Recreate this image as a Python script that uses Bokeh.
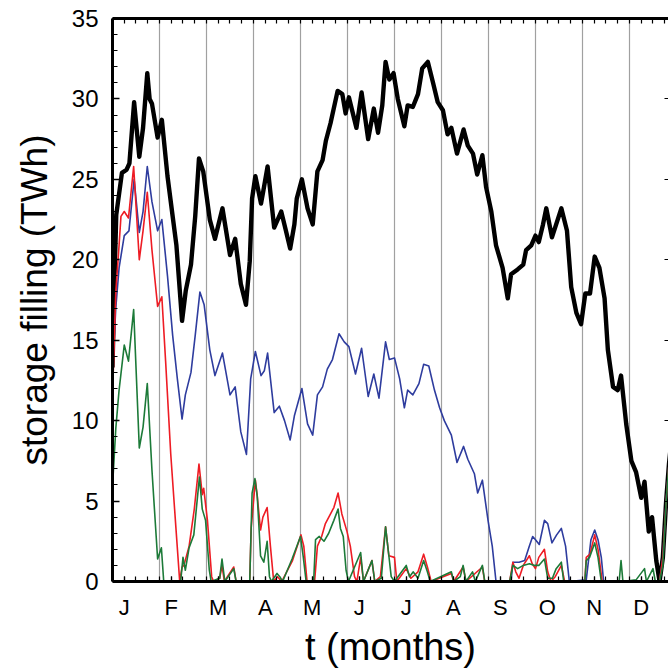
from bokeh.plotting import figure
from bokeh.models import Range1d, LinearAxis, FixedTicker, SingleIntervalTicker, Grid
from bokeh.embed import file_html
from bokeh.resources import INLINE

# x in months (0 = start of January), y in TWh
month_labels = ["J", "F", "M", "A", "M", "J", "J", "A", "S", "O", "N", "D"]

black_pts = [(0, 13.3), (0.04, 18.5), (0.08, 22.8), (0.2, 25.4), (0.3, 25.6), (0.36, 26.0), (0.46, 29.8),
             (0.57, 26.4), (0.65, 28.2), (0.74, 31.6), (0.79, 30.0), (0.84, 29.7), (0.96, 27.6), (1.05, 28.7),
             (1.17, 25.2), (1.28, 22.7), (1.36, 20.9), (1.48, 16.2), (1.56, 18.1), (1.67, 19.7), (1.76, 22.7),
             (1.84, 26.3), (1.93, 25.5), (2.07, 22.5), (2.18, 21.3), (2.34, 23.2), (2.50, 20.3), (2.61, 21.3),
             (2.73, 18.5), (2.84, 17.2), (2.92, 19.9), (2.97, 23.8), (3.04, 25.2), (3.16, 23.5), (3.21, 24.3),
             (3.30, 25.8), (3.44, 22.0), (3.59, 23.0), (3.69, 21.8), (3.78, 20.7), (3.87, 22.2), (3.92, 23.8),
             (4.03, 25.0), (4.15, 23.2), (4.26, 22.2), (4.36, 25.5), (4.47, 26.2), (4.54, 27.4), (4.64, 28.5),
             (4.79, 30.5), (4.89, 30.3), (4.96, 29.1), (5.03, 30.1), (5.19, 28.2), (5.30, 30.4), (5.44, 27.5),
             (5.56, 29.4), (5.65, 27.9), (5.74, 29.6), (5.81, 32.3), (5.89, 31.2), (5.98, 31.6), (6.07, 30.0),
             (6.21, 28.3), (6.28, 29.6), (6.39, 29.5), (6.50, 30.3), (6.59, 31.9), (6.71, 32.3), (6.82, 31.0),
             (6.92, 29.8), (7.03, 29.3), (7.13, 27.8), (7.21, 28.2), (7.33, 26.6), (7.47, 28.1), (7.56, 27.1),
             (7.67, 26.6), (7.76, 25.3), (7.87, 26.5), (7.95, 24.5), (8.06, 23.0), (8.16, 20.9), (8.30, 19.5),
             (8.41, 17.6), (8.48, 19.1), (8.62, 19.4), (8.74, 19.7), (8.80, 20.6), (8.91, 20.9), (9.0, 21.5),
             (9.07, 21.1), (9.16, 22.2), (9.23, 23.2), (9.35, 21.4), (9.44, 22.2), (9.55, 23.2), (9.67, 21.8),
             (9.76, 18.3), (9.87, 16.7), (9.97, 16.0), (10.06, 17.9), (10.16, 17.9), (10.26, 20.2), (10.36, 19.5),
             (10.47, 17.6), (10.54, 14.4), (10.65, 12.1), (10.75, 11.9), (10.82, 12.8), (10.93, 9.8), (11.04, 7.5),
             (11.14, 6.8), (11.25, 5.2), (11.32, 6.2), (11.41, 3.1), (11.48, 4.0), (11.57, 1.3), (11.64, 0.0),
             (11.71, 1.5), (11.78, 5.0), (11.84, 7.3), (11.9, 9.0)]

blue_pts = [(0, 13.0), (0.07, 17.0), (0.14, 19.5), (0.25, 21.5), (0.35, 21.8), (0.46, 25.0), (0.57, 21.7),
            (0.65, 23.0), (0.74, 25.8), (0.84, 23.6), (0.96, 21.8), (1.05, 22.5), (1.17, 19.0), (1.28, 15.3),
            (1.38, 12.6), (1.48, 10.1), (1.55, 11.6), (1.67, 13.0), (1.76, 15.3), (1.86, 18.0), (1.95, 17.2),
            (2.07, 14.4), (2.18, 12.8), (2.34, 14.2), (2.50, 11.6), (2.61, 12.1), (2.73, 9.3), (2.85, 7.9),
            (2.94, 12.6), (3.04, 14.3), (3.16, 12.8), (3.23, 13.1), (3.30, 14.2), (3.44, 10.5), (3.55, 10.9),
            (3.66, 10.0), (3.78, 8.8), (3.87, 10.3), (4.03, 12.0), (4.15, 9.8), (4.26, 9.1), (4.36, 11.6),
            (4.47, 12.1), (4.57, 13.2), (4.68, 13.8), (4.82, 15.4), (4.93, 14.9), (5.03, 14.6), (5.17, 12.9),
            (5.30, 14.5), (5.44, 11.5), (5.56, 12.9), (5.67, 11.4), (5.81, 14.9), (5.89, 13.8), (6.0, 13.9),
            (6.11, 12.6), (6.21, 10.8), (6.28, 11.9), (6.39, 11.6), (6.52, 12.3), (6.62, 13.5), (6.73, 13.4),
            (6.85, 11.9), (6.96, 10.8), (7.06, 10.0), (7.21, 9.1), (7.33, 7.4), (7.47, 8.4), (7.56, 7.6),
            (7.70, 6.7), (7.77, 5.5), (7.87, 6.3), (7.99, 3.8), (8.08, 2.2), (8.16, 0), (8.48, 0), (8.52, 1.2),
            (8.65, 1.2), (8.77, 1.3), (8.87, 2.2), (8.94, 2.8), (9.0, 2.6), (9.08, 2.3), (9.19, 3.8), (9.26, 3.6),
            (9.35, 2.4), (9.45, 2.9), (9.55, 3.3), (9.64, 2.2), (9.72, 0), (10.08, 0.1), (10.18, 2.6),
            (10.26, 3.2), (10.33, 2.6), (10.40, 1.5), (10.45, 0), (11.64, 0), (11.71, 1.5), (11.78, 5.0),
            (11.84, 7.3), (11.9, 9.0)]

red_pts = [(0, 11.5), (0.07, 18.0), (0.14, 20.9), (0.18, 22.7), (0.25, 23.0), (0.34, 22.6), (0.45, 25.8),
           (0.57, 20.0), (0.65, 21.8), (0.74, 24.2), (0.84, 20.6), (0.96, 17.1), (1.05, 17.7), (1.13, 13.7),
           (1.24, 7.9), (1.35, 3.3), (1.43, 0), (1.48, 0.9), (1.52, 1.0), (1.63, 2.2), (1.74, 4.5), (1.84, 7.3),
           (1.91, 5.4), (1.94, 5.8), (2.02, 3.8), (2.11, 0.3), (2.15, 0), (2.28, 0.2), (2.33, 1.0), (2.38, 0),
           (2.58, 0.9), (2.63, 0), (2.92, 0), (2.95, 3.3), (3.04, 6.3), (3.08, 5.3), (3.15, 3.2), (3.20, 4.0),
           (3.29, 4.6), (3.36, 2.2), (3.43, 0), (3.51, 0.3), (3.60, 0), (3.83, 1.3), (4.01, 2.9), (4.07, 2.2),
           (4.14, 0), (4.30, 0), (4.36, 2.2), (4.45, 2.8), (4.53, 3.6), (4.71, 4.6), (4.80, 5.5), (4.88, 4.2),
           (4.99, 3.1), (5.06, 2.2), (5.15, 0.3), (5.20, 0), (5.28, 1.5), (5.34, 0), (5.52, 1.3), (5.58, 0),
           (5.70, 0.3), (5.81, 3.4), (5.88, 1.6), (6.0, 1.5), (6.05, 0), (6.25, 0.8), (6.35, 0.2), (6.50, 0.6),
           (6.62, 1.7), (6.70, 0.9), (6.78, 0), (7.21, 0.5), (7.26, 0), (7.46, 0.9), (7.52, 0), (7.87, 0.9),
           (7.92, 0), (8.45, 0), (8.52, 1.2), (8.58, 0.6), (8.65, 0.2), (8.74, 1.0), (8.87, 1.6), (8.93, 1.1),
           (9.0, 0.8), (9.07, 1.5), (9.19, 2.0), (9.26, 0.6), (9.33, 0), (9.42, 0.3), (9.55, 1.0), (9.62, 0),
           (10.05, 0), (10.08, 1.5), (10.16, 1.7), (10.26, 2.9), (10.33, 2.0), (10.42, 0), (11.64, 0),
           (11.71, 1.5), (11.78, 5.0), (11.84, 7.3), (11.9, 9.0)]

green_pts = [(0, 5.9), (0.07, 9.5), (0.14, 11.9), (0.25, 14.7), (0.34, 13.7), (0.45, 16.9), (0.57, 8.3),
             (0.65, 9.6), (0.74, 12.3), (0.84, 6.9), (0.96, 1.4), (1.04, 2.1), (1.09, 0), (1.45, 0), (1.50, 1.5),
             (1.55, 0.7), (1.63, 2.1), (1.73, 2.9), (1.85, 6.5), (1.91, 4.5), (1.98, 3.8), (2.06, 0.7), (2.10, 0),
             (2.28, 0.2), (2.33, 1.4), (2.39, 0), (2.58, 0.8), (2.63, 0), (2.92, 0), (2.97, 5.5), (3.03, 6.4),
             (3.08, 5.3), (3.15, 1.6), (3.22, 1.2), (3.29, 2.5), (3.34, 0.3), (3.38, 0), (3.50, 0.5), (3.56, 0.3),
             (3.62, 0), (3.82, 1.4), (4.0, 2.8), (4.06, 1.5), (4.12, 0), (4.28, 0), (4.32, 2.6), (4.40, 2.8),
             (4.50, 2.5), (4.60, 3.0), (4.71, 3.8), (4.80, 4.5), (4.85, 3.3), (4.91, 2.8), (4.97, 0.7), (5.02, 0),
             (5.28, 1.8), (5.34, 0), (5.52, 1.3), (5.58, 0), (5.72, 0.2), (5.81, 3.4), (5.88, 1.6), (5.93, 0.3),
             (6.0, 0), (6.25, 1.0), (6.32, 0.3), (6.40, 0.6), (6.50, 0.2), (6.62, 1.3), (6.70, 0.6), (6.76, 0),
             (7.21, 0.6), (7.26, 0), (7.40, 0.3), (7.46, 1.0), (7.52, 0), (7.66, 0.6), (7.72, 0), (7.87, 1.0),
             (7.92, 0), (8.45, 0), (8.52, 1.0), (8.62, 0.8), (8.74, 1.0), (8.87, 1.1), (8.98, 1.0), (9.07, 1.0),
             (9.19, 1.4), (9.26, 0.2), (9.36, 0.2), (9.44, 0.8), (9.55, 1.2), (9.60, 0), (10.05, 0), (10.08, 1.3),
             (10.15, 1.5), (10.26, 2.4), (10.33, 1.5), (10.40, 0), (10.78, 0), (10.82, 1.3), (10.86, 0),
             (11.14, 0.1), (11.32, 0.8), (11.36, 0), (11.50, 0.8), (11.55, 0), (11.64, 0), (11.71, 1.0),
             (11.78, 5.0), (11.84, 7.3), (11.9, 9.0)]

FONT = "Liberation Sans"

p = figure(width=668, height=670, output_backend="svg", toolbar_location=None,
           x_range=Range1d(0, 11.83), y_range=Range1d(0, 35),
           x_axis_location=None, y_axis_location=None,
           min_border_left=112, min_border_right=0, min_border_top=18, min_border_bottom=88)
p.outline_line_color = None
for g in p.grid:
    g.visible = False

p.add_layout(Grid(dimension=0, ticker=FixedTicker(ticks=list(range(1, 12))),
                  grid_line_color="#a0a0a0", grid_line_width=1.2))

quarters = [i / 4 for i in range(0, 48)]
label_pos = [i + 0.25 for i in range(12)]

yax = LinearAxis(ticker=SingleIntervalTicker(interval=5, num_minor_ticks=5),
                 axis_label="storage filling (TWh)", axis_label_text_font=FONT,
                 axis_label_text_font_size="37px", axis_label_text_font_style="normal",
                 axis_label_standoff=14, axis_label_text_color="black",
                 major_label_text_font=FONT, major_label_text_font_size="24px",
                 major_label_text_color="black", major_label_standoff=14,
                 major_tick_in=7, major_tick_out=0, minor_tick_in=5, minor_tick_out=0,
                 axis_line_width=3, major_tick_line_width=1.5, minor_tick_line_width=1.2)
p.add_layout(yax, "left")

xax = LinearAxis(ticker=FixedTicker(ticks=label_pos, minor_ticks=quarters),
                 major_label_overrides={pos: lab for pos, lab in zip(label_pos, month_labels)},
                 major_label_text_font=FONT, major_label_text_font_size="22px",
                 major_label_text_color="black", major_label_standoff=13,
                 axis_label="t (months)", axis_label_text_font=FONT,
                 axis_label_text_font_size="38px", axis_label_text_font_style="normal",
                 axis_label_standoff=3, axis_label_text_color="black",
                 major_tick_in=5, major_tick_out=0, minor_tick_in=5, minor_tick_out=0,
                 axis_line_width=3, major_tick_line_width=1.2, minor_tick_line_width=1.2)
p.add_layout(xax, "below")

tax = LinearAxis(ticker=FixedTicker(ticks=[], minor_ticks=quarters),
                 major_label_text_font_size="0px", major_label_standoff=0,
                 major_tick_in=0, major_tick_out=0, minor_tick_in=5, minor_tick_out=0,
                 axis_line_width=3, minor_tick_line_width=1.2)
p.add_layout(tax, "above")

rax = LinearAxis(ticker=FixedTicker(ticks=[5, 10, 15, 20, 25, 30]),
                 major_label_overrides={v: "" for v in [5, 10, 15, 20, 25, 30]},
                 major_label_text_font_size="0px", major_label_standoff=0,
                 major_tick_in=4, major_tick_out=0, minor_tick_in=0, minor_tick_out=0,
                 axis_line_color=None, major_tick_line_width=1.2)
p.add_layout(rax, "right")

series = [(black_pts, "black", 4.4), (blue_pts, "#2e3c9e", 1.6),
          (red_pts, "#ee1c24", 1.6), (green_pts, "#1c7a38", 1.6)]
for pts, col, lw in series:
    xs = [a for a, b in pts]
    ys = [b for a, b in pts]
    p.line(xs, ys, line_color=col, line_width=lw, line_join="round")

open("out.html", "w").write(file_html(p, INLINE))
